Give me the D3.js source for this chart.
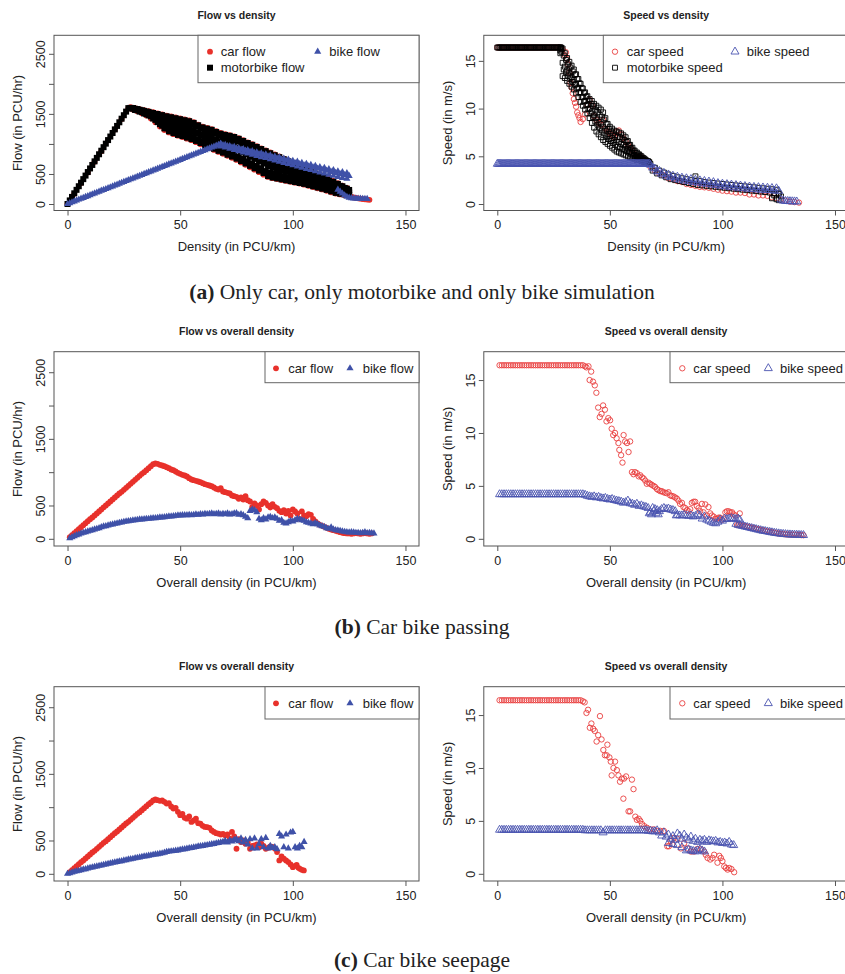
<!DOCTYPE html>
<html>
<head>
<meta charset="utf-8">
<script src="https://cdn.jsdelivr.net/npm/d3@7"></script>
<style>
  body { margin: 0; background: #fff; }
  svg { display: block; }
  text { font-family: "Liberation Sans", Arial, Helvetica, sans-serif; fill: #222; }
</style>
</head>
<body>
<svg id="fig" width="845" height="974"></svg>
<script>
// ---------- axes ----------
const densityLim = [0, 150];
const flowLim = [0, 2700];
const speedLim = [0, 17];
const densityTicks = [0, 50, 100, 150];
const flowTicks = [0, 500, 1000, 1500, 2000, 2500];
const flowTickLabels = ["0", "500", "", "1500", "", "2500"];
const speedTicks = [0, 5, 10, 15];

// ---------- (a) only car / only motorbike / only bike ----------
const aMotoFlowRise = [[0,0],[1,60],[2,118],[3,178],[4,236],[5,296],[6,355],[7,414],[8,473],[9,532],[10,592],[11,650],[12,710],[13,768],[14,828],[15,887],[16,946],[17,1005],[18,1064],[19,1123],[20,1182],[21,1242],[22,1300],[23,1360],[24,1420],[25,1478],[26,1538],[27,1596]];
const aFallEvenX = [28,30,32,34,36,38,40,42,44,46,48,50,52,54,56,58,60,62,64,66,68,70,72,74,76,78,80,82,84,86,88,90,92,94,96,98,100,102,104,106,108,110,112,114,116,118,120,122,124];
const aFallOddX = [29,31,33,35,37,39,41,43,45,47,49,51,53,55,57,59,61,63,65,67,69,71,73,75,77,79,81,83,85,87,89,91,93,95,97,99,101,103,105,107,109,111,113,115,117,119,121,123,125];
// motorbike flow band after the peak, read as six rows from top edge to bottom edge
const aMotoFlowRow0 = [1600,1585,1568,1550,1533,1515,1498,1480,1460,1445,1428,1412,1395,1378,1350,1310,1275,1255,1235,1200,1170,1150,1135,1115,1085,1050,1015,985,950,915,880,845,812,780,745,712,680,645,610,575,540,505,472,440,405,372,335,295,255];
const aMotoFlowRow1 = [1598,1580,1560,1539,1518,1492,1464,1436,1410,1392,1372,1356,1337,1318,1290,1251,1216,1194,1172,1137,1107,1084,1066,1043,1011,975,939,907,871,835,797,764,735,706,675,646,617,586,555,523,491,459,429,399,366,335,302,268,234];
const aMotoFlowRow2 = [1596,1575,1553,1528,1504,1469,1431,1392,1360,1339,1317,1299,1279,1259,1230,1192,1157,1133,1109,1074,1044,1018,997,971,937,900,863,829,792,755,714,683,657,632,605,579,554,527,500,471,442,413,385,358,327,297,269,241,213];
const aMotoFlowRow3 = [1594,1570,1545,1517,1489,1446,1397,1348,1310,1286,1261,1243,1221,1199,1170,1133,1098,1072,1046,1011,981,952,928,899,863,825,787,751,713,675,631,602,580,558,535,513,491,468,445,419,393,367,342,317,288,260,236,214,192];
const aMotoFlowRow4 = [1592,1565,1538,1506,1475,1423,1364,1304,1260,1233,1206,1186,1163,1140,1110,1074,1039,1011,983,948,918,886,859,827,789,750,711,673,634,595,548,521,502,484,465,446,428,409,390,367,344,321,298,276,249,222,203,187,171];
const aMotoFlowRow5 = [1590,1560,1530,1495,1460,1400,1330,1260,1210,1180,1150,1130,1105,1080,1050,1015,980,950,920,885,855,820,790,755,715,675,635,595,555,515,465,440,425,410,395,380,365,350,335,315,295,275,255,235,210,185,170,160,150];
const aCarFlowRise = [[0,0],[3,172],[6,350],[9,525],[12,705],[15,880],[18,1060],[21,1240],[24,1415],[27,1590]];
const aCarFlowUpper = [1612,1597,1580,1562,1545,1527,1510,1492,1472,1457,1440,1424,1407,1390,1362,1322,1287,1267,1247,1212,1182,1162,1147,1127,1097,1062,1027,997,962,927,892,857,824,792,757,724,692,657,622,587,552,517,484,452,417,384,347,307,267];
const aCarFlowLower = [1575,1545,1512,1474,1425,1360,1290,1230,1192,1162,1137,1114,1088,1062,1030,994,962,932,900,867,835,802,770,733,692,652,612,572,530,488,450,430,415,400,385,370,355,340,322,302,282,262,242,220,195,175,160,150,140];
const aCarFlowTail = [[126,120],[127,110],[128,100],[129,95],[130,88],[131,82],[132,78],[133,74],[134,70]];
const aBikeFlowRise = [[0,0],[1,15],[2,29],[3,44],[4,59],[5,74],[6,88],[7,103],[8,118],[9,132],[10,147],[11,162],[12,176],[13,191],[14,206],[15,221],[16,235],[17,250],[18,265],[19,279],[20,294],[21,309],[22,323],[23,338],[24,353],[25,368],[26,382],[27,397],[28,412],[29,426],[30,441],[31,456],[32,470],[33,485],[34,500],[35,515],[36,529],[37,544],[38,559],[39,573],[40,588],[41,603],[42,618],[43,632],[44,647],[45,662],[46,676],[47,691],[48,706],[49,720],[50,735],[51,750],[52,765],[53,779],[54,794],[55,809],[56,823],[57,838],[58,853],[59,868],[60,882],[61,897],[62,912],[63,926],[64,941],[65,956],[66,970],[67,985],[68,1000]];
const aBikeEvenX = [68,70,72,74,76,78,80,82,84,86,88,90,92,94,96,98,100,102,104,106,108,110,112,114,116,118,120,122,124];
const aBikeOddX = [69,71,73,75,77,79,81,83,85,87,89,91,93,95,97,99,101,103,105,107,109,111,113,115,117,119,121,123,125];
const aBikeFlowUpper = [1000,985,965,950,930,915,895,880,860,845,825,810,790,775,755,740,720,705,685,670,650,635,615,600,580,565,545,530,515];
const aBikeFlowMid = [980,962,942,925,905,888,868,850,830,812,795,778,758,740,720,702,682,665,645,628,608,590,570,555,535,518,498,482,468];
const aBikeFlowLower = [960,940,920,900,880,860,840,820,800,780,765,745,725,705,685,665,645,625,605,585,565,545,525,510,490,470,450,435,420];
const aBikeFlowTail = [[120,240],[121,205],[122,175],[123,145],[124,120],[125,105],[126,98],[127,94],[128,92],[129,90],[130,88],[131,87],[132,86],[133,85]];

const aFreeX = [0,1,2,3,4,5,6,7,8,9,10,11,12,13,14,15,16,17,18,19,20,21,22,23,24,25,26,27,28];
const aFreeHalfX = [0.5,1.5,2.5,3.5,4.5,5.5,6.5,7.5,8.5,9.5,10.5,11.5,12.5,13.5,14.5,15.5,16.5,17.5,18.5,19.5,20.5,21.5,22.5,23.5,24.5,25.5,26.5,27.5,28.3];
const aFreeSpeed = [16.4,16.4,16.4,16.4,16.4,16.4,16.4,16.4,16.4,16.4,16.4,16.4,16.4,16.4,16.4,16.4,16.4,16.4,16.4,16.4,16.4,16.4,16.4,16.4,16.4,16.4,16.4,16.4,16.4];
const aDropX = [28,29,30,31,32,33,34,35,36,37,38,39,40,41,42,43,44,45,46,47,48,49,50,51,52,53,54,55,56,57,58,59,60,61,62,63,64,65,66,67];
const aDropHalfX = [28.5,29.5,30.5,31.5,32.5,33.5,34.5,35.5,36.5,37.5,38.5,39.5,40.5,41.5,42.5,43.5,44.5,45.5,46.5,47.5,48.5,49.5,50.5,51.5,52.5,53.5,54.5,55.5,56.5,57.5,58.5,59.5,60.5,61.5,62.5,63.5,64.5,65.5,66.5,67.5];
const aMotoSpeedUpper = [16.4,16.3,15.8,15.3,14.9,14.5,14.1,13.6,13.1,12.6,12.1,11.7,11.3,11.0,10.8,10.5,10.3,10.1,9.9,9.6,9.0,8.4,8.1,7.9,7.7,7.6,7.5,7.4,7.2,7.0,6.6,6.2,5.9,5.6,5.4,5.2,5.0,4.8,4.6,4.5];
const aMotoSpeedMidA = [16.25,15.55,15.1,14.65,14.3,13.9,13.55,13.1,12.65,12.15,11.65,11.25,10.85,10.5,10.25,9.9,9.65,9.35,9.15,8.85,8.35,7.85,7.6,7.4,7.2,7.05,7.0,6.85,6.7,6.5,6.2,5.85,5.6,5.35,5.2,5.05,4.85,4.7,4.5,4.4];
const aMotoSpeedMid = [16.1,14.8,14.4,14.0,13.7,13.3,13.0,12.6,12.2,11.7,11.2,10.8,10.4,10.0,9.7,9.3,9.0,8.6,8.4,8.1,7.7,7.3,7.1,6.9,6.7,6.5,6.5,6.3,6.2,6.0,5.8,5.5,5.3,5.1,5.0,4.9,4.7,4.6,4.45,4.35];
const aMotoSpeedMidB = [15.95,14.1,13.8,13.45,13.15,12.8,12.5,12.1,11.7,11.2,10.75,10.35,9.95,9.5,9.1,8.65,8.3,7.95,7.7,7.4,7.1,6.8,6.6,6.4,6.2,6.0,5.95,5.8,5.7,5.55,5.4,5.2,5.05,4.9,4.8,4.75,4.6,4.5,4.35,4.3];
const aMotoSpeedLower = [15.8,13.4,13.2,12.9,12.6,12.3,12.0,11.6,11.2,10.7,10.3,9.9,9.5,9.0,8.5,8.0,7.6,7.3,7.0,6.7,6.5,6.3,6.1,5.9,5.7,5.5,5.4,5.3,5.2,5.1,5.0,4.9,4.8,4.7,4.6,4.6,4.5,4.4,4.3,4.2];
const aMotoSpeedTailUpper = [4.2,3.8,3.5,3.3,3.1,2.95,2.8,2.7,2.6,2.5,2.45,2.4,2.3,2.25,2.2,2.15,2.1,2.05,2.0,1.95,1.9,1.85,1.8,1.75,1.7,1.65,1.6,1.55,1.5];
const aMotoSpeedTailLower = [3.5,3.2,3.0,2.8,2.6,2.5,2.4,2.3,2.2,2.1,2.0,1.95,1.9,1.85,1.8,1.75,1.7,1.65,1.6,1.55,1.5,1.45,1.4,1.35,1.3,1.25,1.2,1.15,1.1];
const aMotoSpeedOutliers = [[88,2.9],[122,0.6],[123,0.9],[124,0.5],[125,0.4],[126,0.8],[125,1.1]];
const aCarSpeedDrop = [[29,16.2],[30,15.6],[30.5,15.9],[31,15.2],[31.5,14.6],[32,13.8],[32.5,12.7],[33,12.2],[33.5,11.6],[34,11.0],[34.5,10.6],[35,10.2],[35.5,9.6],[36,9.3],[36.5,9.0],[37,8.6],[38,8.9],[39,9.4],[40,10.4],[41,10.9],[42,10.3],[43,9.2],[44,8.8],[45,8.5],[46,8.3],[47,8.8],[48,7.9],[49,7.6],[50,7.4],[51,7.2],[52,7.0],[53,7.6],[54,7.7],[55,7.3],[56,6.9],[57,6.6],[58,6.2],[59,5.9],[60,5.6],[61,5.2],[62,5.0],[63,4.9],[64,4.9],[65,4.7],[66,4.4],[68,3.9],[70,3.5],[72,3.2],[74,3.0],[76,2.7],[78,2.6],[80,2.4],[82,2.3],[84,2.1],[86,2.0],[88,1.9],[90,1.8],[92,1.75],[94,1.7],[96,1.6],[98,1.5],[100,1.4],[102,1.35],[104,1.3],[106,1.2],[108,1.2],[110,1.15],[112,1.0],[114,1.0],[116,0.9],[118,0.9],[120,0.85],[122,0.7],[124,0.6],[126,0.45],[128,0.35],[130,0.25],[132,0.2],[134,0.15]];
const aBikeFreeX = [0,1,2,3,4,5,6,7,8,9,10,11,12,13,14,15,16,17,18,19,20,21,22,23,24,25,26,27,28,29,30,31,32,33,34,35,36,37,38,39,40,41,42,43,44,45,46,47,48,49,50,51,52,53,54,55,56,57,58,59,60,61,62,63,64,65,66,67];
const aBikeFreeHalfX = [0.5,1.5,2.5,3.5,4.5,5.5,6.5,7.5,8.5,9.5,10.5,11.5,12.5,13.5,14.5,15.5,16.5,17.5,18.5,19.5,20.5,21.5,22.5,23.5,24.5,25.5,26.5,27.5,28.5,29.5,30.5,31.5,32.5,33.5,34.5,35.5,36.5,37.5,38.5,39.5,40.5,41.5,42.5,43.5,44.5,45.5,46.5,47.5,48.5,49.5,50.5,51.5,52.5,53.5,54.5,55.5,56.5,57.5,58.5,59.5,60.5,61.5,62.5,63.5,64.5,65.5,66.5,67.5];
const aBikeFreeSpeed = [4.2,4.2,4.2,4.2,4.2,4.2,4.2,4.2,4.2,4.2,4.2,4.2,4.2,4.2,4.2,4.2,4.2,4.2,4.2,4.2,4.2,4.2,4.2,4.2,4.2,4.2,4.2,4.2,4.2,4.2,4.2,4.2,4.2,4.2,4.2,4.2,4.2,4.2,4.2,4.2,4.2,4.2,4.2,4.2,4.2,4.2,4.2,4.2,4.2,4.2,4.2,4.2,4.2,4.2,4.2,4.2,4.2,4.2,4.2,4.2,4.2,4.2,4.2,4.2,4.2,4.2,4.2,4.2];
const aBikeSpeedUpper = [4.1,3.7,3.45,3.25,3.08,2.95,2.85,2.75,2.68,2.6,2.53,2.46,2.4,2.34,2.28,2.18,2.12,2.07,2.02,1.97,1.92,1.87,1.82,1.78,1.75,1.72,1.69,1.66,1.63];
const aBikeSpeedLower = [3.8,3.4,3.15,2.95,2.8,2.65,2.55,2.45,2.38,2.3,2.23,2.16,2.1,2.04,1.98,1.9,1.84,1.79,1.74,1.69,1.64,1.6,1.56,1.52,1.49,1.46,1.43,1.4,1.37];
const aBikeSpeedTail = [[126,0.45],[127,0.35],[128,0.3],[129,0.3],[130,0.28],[131,0.27],[132,0.26],[133,0.25]];

// ---------- (b) car bike passing ----------
const bCarFlow = [[1,25],[2,55],[3,85],[4,115],[5,145],[6,175],[7,205],[8,235],[9,265],[10,295],[11,320],[12,350],[13,380],[14,410],[15,440],[16,470],[17,500],[18,530],[19,560],[20,590],[21,620],[22,650],[23,680],[24,705],[25,735],[26,765],[27,795],[28,825],[29,855],[30,885],[31,915],[32,945],[33,975],[34,1000],[35,1030],[36,1060],[37,1090],[38,1120],[39,1130],
  [40,1125],[41,1110],[42,1100],[43,1090],[44,1075],[45,1060],[46,1040],[47,1030],[48,1010],[49,990],[50,975],[51,960],[52,950],[53,935],[54,910],[55,890],[56,880],[57,870],[58,860],[59,850],[60,835],[61,820],[62,810],[63,800],[64,790],[65,770],[66,750],[67,740],[68,760],[69,710],[70,700],[71,690],[72,680],[73,650],[74,640],[75,630],[76,600],[77,620],[78,590],[79,640],[80,580],[81,560],[82,480],[83,530],[84,500],[85,440],[86,520],[87,560],[88,540],[89,500],[90,470],[91,520],[92,480],[93,460],[94,420],[95,400],[96,430],[97,380],[98,420],[99,350],[100,440],[101,410],[102,380],[103,300],[104,410],[105,350],[106,340],[107,370],[108,360],[109,300],[110,260],[111,230],[112,210],[113,195],[114,180],[115,165],[116,150],[117,140],[118,130],[119,120],[120,110],[121,100],[122,90],[123,85],[124,80],[125,80],[126,75],[127,80],[128,85],[129,80],[130,75],[131,80],[132,85],[133,80],[134,75],[135,80]];
const bBikeFlow = [[1,10],[2,25],[3,40],[4,55],[5,65],[6,80],[7,90],[8,100],[9,110],[10,120],[11,130],[12,140],[13,150],[14,160],[15,175],[16,185],[17,190],[18,200],[19,210],[20,215],[21,225],[22,230],[23,240],[24,245],[25,255],[26,260],[27,265],[28,270],[29,275],[30,280],[31,285],[32,290],[33,290],[34,295],[35,300],[36,300],[37,305],[38,310],[39,310],[40,315],[41,320],[42,320],[43,325],[44,330],[45,335],[46,335],[47,340],[48,345],[49,350],[50,350],[51,355],[52,355],[53,355],[54,360],[55,355],[56,360],[57,365],[58,360],[59,370],[60,365],[61,375],[62,370],[63,375],[64,380],[65,370],[66,375],[67,380],[68,365],[69,375],[70,370],[71,380],[72,365],[73,370],[74,380],[75,385],[76,360],[77,370],[78,355],[79,330],[80,310],[81,420],[82,440],[83,430],[84,400],[85,300],[86,280],[87,310],[88,290],[89,320],[90,330],[91,310],[92,320],[93,300],[94,270],[95,280],[96,240],[97,230],[98,250],[99,270],[100,260],[101,280],[102,300],[103,290],[104,280],[105,270],[106,250],[107,240],[108,230],[109,220],[110,240],[111,220],[112,200],[113,190],[114,180],[115,160],[116,150],[117,170],[118,140],[119,130],[120,125],[121,120],[122,110],[123,105],[124,100],[125,95],[126,100],[127,95],[128,90],[129,90],[130,85],[131,90],[132,100],[133,85],[134,90],[135,85],[136,80]];
const bCarSpeed = [[1,16.4],[2,16.4],[3,16.4],[4,16.4],[5,16.4],[6,16.4],[7,16.4],[8,16.4],[9,16.4],[10,16.4],[11,16.4],[12,16.4],[13,16.4],[14,16.4],[15,16.4],[16,16.4],[17,16.4],[18,16.4],[19,16.4],[20,16.4],[21,16.4],[22,16.4],[23,16.4],[24,16.4],[25,16.4],[26,16.4],[27,16.4],[28,16.4],[29,16.4],[30,16.4],[31,16.4],[32,16.4],[33,16.4],[34,16.4],[35,16.4],[36,16.4],[37,16.4],[38,16.4],
  [39,16.3],[39.6,16.2],[40.5,16.3],[41,15.0],[41.7,15.8],[42.5,14.85],[43.3,14.5],[44,13.8],[44.8,12.4],[45.5,11.5],[46.3,11.8],[47,12.6],[47.8,12.2],[48.5,11.1],[49.3,11.4],[50.1,11.2],[50.8,10.4],[51.5,9.8],[52.3,10.0],[53,9.5],[53.8,9.05],[54.2,8.4],[55,7.9],[55.6,7.2],[56.1,9.8],[56.8,9.2],[57.6,9.05],[58.3,8.2],[59,9.2],[59.8,6.3],[60.5,6.1],[61.2,6.3],[62,6.2],[62.8,5.9],[63.5,6.0],[64.3,5.8],[65,5.7],[65.7,5.5],[66.4,5.2],[67.2,5.3],[67.9,5.2],[68.6,5.1],[69.4,5.0],[70.1,4.9],[70.9,4.7],[71.6,4.6],[72.4,4.5],[73.1,4.5],[73.8,4.4],[74.6,4.35],[75.3,4.3],[76,4.4],[76.8,4.1],[77.5,4.05],[78.3,4.0],[79,3.9],[79.8,3.8],[80.5,3.6],[81.2,3.3],[82,3.4],[82.7,3.0],[83.5,2.9],[84.2,2.7],[85,2.6],[85.7,2.8],[86.4,3.4],[87.2,3.5],[87.9,3.5],[88.6,3.1],[89.4,2.9],[90.1,2.6],[90.9,3.3],[91.6,2.5],[92.4,3.25],[93.1,2.2],[93.8,3.0],[94.6,2.4],[95.3,2.2],[96.1,2.1],[96.8,1.9],[97.6,1.9],[98.3,2.0],[99,2.0],[99.8,1.8],[100.5,1.9],[101.3,2.5],[102,2.6],[102.8,2.6],[103.5,2.5],[104.3,2.5],[105,2.3],[105.8,2.2],[106.5,1.3],[107.3,1.3],[107.7,2.4],[108,1.3],[109,1.25],[110,1.2],[111,1.15],[112,1.1],[113,1.05],[114,1.0],[115,0.95],[116,0.9],[117,0.85],[118,0.8],[119,0.75],[120,0.7],[121,0.67],[122,0.62],[123,0.58],[124,0.55],[125,0.5],[126,0.47],[127,0.45],[128,0.43],[129,0.41],[130,0.4],[131,0.39],[132,0.38],[133,0.37],[134,0.36],[135,0.35],[136,0.34]];
const bBikeSpeed = [[1,4.2],[2,4.2],[3,4.2],[4,4.2],[5,4.2],[6,4.2],[7,4.2],[8,4.2],[9,4.2],[10,4.2],[11,4.2],[12,4.2],[13,4.2],[14,4.2],[15,4.2],[16,4.2],[17,4.2],[18,4.2],[19,4.2],[20,4.2],[21,4.2],[22,4.2],[23,4.2],[24,4.2],[25,4.2],[26,4.2],[27,4.2],[28,4.2],[29,4.2],[30,4.2],[31,4.2],[32,4.2],[33,4.2],[34,4.2],[35,4.2],[36,4.2],[37,4.2],[38,4.2],[39,4.15],
  [40,4.05],[41,4.0],[42,3.95],[43,4.0],[44,3.9],[45,3.95],[46,3.85],[47,3.8],[48,3.85],[49,3.75],[50,3.7],[51,3.75],[52,3.65],[53,3.6],[54,3.55],[55,3.5],[56,3.4],[57,3.45],[58,3.6],[59,3.35],[60,3.3],[61,3.2],[62,3.3],[63,3.1],[64,3.15],[65,3.05],[66,3.0],[67,2.9],[67.5,2.4],[68,2.5],[68.5,2.3],[69,2.9],[69.5,2.6],[70,2.8],[70.5,2.4],[71,2.7],[71.5,2.3],[72,2.6],[73,2.8],[74,2.9],[75,2.8],[76,2.85],[77,2.75],[78,2.7],[79,2.6],[79.5,2.2],[80,2.25],[81,2.2],[82,2.2],[83,2.25],[84,2.2],[85,2.15],[86,2.2],[87,2.1],[88,2.15],[89,2.3],[90,2.2],[91,1.9],[92,2.1],[93,1.8],[94,1.7],[95,1.6],[96,1.5],[97,1.45],[98,1.6],[99,1.8],[100,1.7],[101,1.9],[102,1.85],[103,1.9],[104,1.95],[105,1.9],[106,1.85],[107,1.9],[107.7,1.8],[106,1.4],[107,1.3],[108,1.25],[109,1.2],[110,1.15],[111,1.1],[112,1.05],[113,1.0],[114,0.95],[115,0.9],[116,0.85],[117,0.8],[118,0.75],[119,0.72],[120,0.68],[121,0.64],[122,0.6],[123,0.56],[124,0.53],[125,0.5],[126,0.47],[127,0.45],[128,0.43],[129,0.41],[130,0.4],[131,0.39],[132,0.38],[133,0.37],[134,0.36],[135,0.35],[136,0.34]];

// ---------- (c) car bike seepage ----------
const cCarFlow = [[1,25],[2,55],[3,85],[4,115],[5,145],[6,175],[7,200],[8,230],[9,260],[10,290],[11,320],[12,345],[13,375],[14,405],[15,435],[16,465],[17,490],[18,520],[19,550],[20,580],[21,610],[22,635],[23,665],[24,695],[25,725],[26,755],[27,780],[28,810],[29,840],[30,870],[31,900],[32,925],[33,955],[34,985],[35,1015],[36,1045],[37,1070],[38,1100],[39,1115],
  [40,1105],[41,1095],[42,1100],[43,1080],[44,1054],[45,1060],[46,1010],[47,980],[48,990],[49,930],[50,880],[51,900],[52,840],[53,828],[54,860],[55,778],[56,800],[57,828],[58,760],[59,753],[60,720],[61,703],[62,700],[63,690],[64,650],[65,628],[66,610],[67,602],[68,590],[69,600],[70,577],[71,590],[72,527],[73,628],[74,560],[75,376],[76,520],[77,477],[78,500],[79,452],[80,470],[81,376],[82,420],[83,427],[84,440],[85,400],[86,452],[87,420],[88,376],[89,390],[90,410],[91,402],[92,380],[93,326],[94,201],[95,260],[96,226],[97,200],[98,176],[99,140],[100,100],[101,120],[101.7,135],[102.5,90],[103.2,75],[104,60],[104.9,50]];
const cBikeFlow = [[0,0],[1,10],[2,20],[3,30],[4,40],[5,45],[6,55],[7,65],[8,70],[9,80],[10,90],[11,95],[12,105],[13,110],[14,120],[15,125],[16,135],[17,140],[18,150],[19,155],[20,165],[21,170],[22,178],[23,185],[24,190],[25,200],[26,205],[27,215],[28,220],[29,225],[30,235],[31,240],[32,245],[33,255],[34,260],[35,265],[36,272],[37,278],[38,285],[39,290],[40,295],[41,302],[42,308],[43,318],[44,328],[45,334],[46,338],[47,342],[48,348],[49,352],[50,360],[51,365],[52,370],[53,378],[54,385],[55,390],[56,395],[57,402],[58,410],[59,415],[60,420],[61,425],[62,432],[63,438],[64,445],[65,450],[66,458],[67,465],[68,472],
  [69,480],[70,495],[71,470],[72,500],[73,485],[74,510],[75,520],[76,490],[77,530],[78,470],[79,510],[80,440],[81,520],[82,380],[83,530],[84,380],[85,450],[86,520],[87,400],[88,540],[89,380],[90,420],[91,390],[92,400],[93,370],[94,600],[95,560],[96,400],[97,590],[98,380],[99,620],[100,630],[101,400],[102,380],[103,420],[104,400],[105,480]];
const cCarSpeed = [[1,16.4],[2,16.4],[3,16.4],[4,16.4],[5,16.4],[6,16.4],[7,16.4],[8,16.4],[9,16.4],[10,16.4],[11,16.4],[12,16.4],[13,16.4],[14,16.4],[15,16.4],[16,16.4],[17,16.4],[18,16.4],[19,16.4],[20,16.4],[21,16.4],[22,16.4],[23,16.4],[24,16.4],[25,16.4],[26,16.4],[27,16.4],[28,16.4],[29,16.4],[30,16.4],[31,16.4],[32,16.4],[33,16.4],[34,16.4],[35,16.4],[36,16.4],[37,16.4],[38,16.3],
  [38.8,16.2],[39.6,15.2],[40.3,15.5],[41.1,13.8],[41.8,14.2],[42.6,13.7],[43.3,13.5],[44.1,12.5],[44.8,13.1],[45.6,14.9],[46.3,12.7],[47.1,11.7],[47.8,11.2],[48.6,11.2],[48.9,12.2],[49.8,11.0],[50.4,10.6],[50.8,9.3],[51.6,10.0],[52.3,10.6],[53.1,9.8],[53.8,9.3],[54.5,8.7],[55.3,9.0],[56.3,9.0],[57.2,9.2],[56.0,7.1],[58.3,5.9],[59.0,5.9],[59.8,8.9],[60.5,8.0],[61.3,5.4],[62.0,5.1],[62.8,5.2],[63.5,5.0],[64.3,4.7],[65.3,4.5],[66.5,4.35],[68.0,4.2],[69.5,4.2],[71.0,4.05],[72.5,4.05],[74.0,4.05],[75.5,2.6],[77.0,3.1],[77.7,2.8],[78.5,3.4],[80.0,3.3],[76.2,2.6],[81.5,2.4],[83.0,2.9],[84.4,2.4],[86.0,2.1],[87.4,2.1],[88.9,2.35],[90.4,2.3],[91.9,2.1],[92.6,1.8],[93.4,1.5],[94.6,1.35],[95.6,1.5],[96.3,1.8],[97.8,1.05],[98.6,1.7],[99.3,1.5],[100.0,1.2],[100.8,0.7],[101.5,0.55],[102.3,0.4],[103.0,0.55],[104.0,0.45],[105.2,0.15]];
const cBikeSpeed = [[1,4.15],[2,4.15],[3,4.15],[4,4.15],[5,4.15],[6,4.15],[7,4.15],[8,4.15],[9,4.15],[10,4.15],[11,4.15],[12,4.15],[13,4.15],[14,4.15],[15,4.15],[16,4.15],[17,4.15],[18,4.15],[19,4.15],[20,4.15],[21,4.15],[22,4.15],[23,4.15],[24,4.15],[25,4.15],[26,4.15],[27,4.15],[28,4.15],[29,4.15],[30,4.15],[31,4.15],[32,4.15],[33,4.15],[34,4.15],[35,4.15],[36,4.15],[37,4.15],[38,4.15],[39,4.1],[40,4.1],[41,4.1],[42,4.1],[43,4.1],[44,4.1],[45,4.1],[46,4.1],[47,3.9],[48,4.1],[49,4.1],[50,4.1],[51,4.1],[52,4.1],[53,4.1],[54,4.1],[55,4.1],[56,4.1],[57,4.1],[58,4.1],[59,4.1],[60,4.1],[61,4.1],[62,4.1],[63,4.1],[64,4.1],[65,4.1],[66,4.1],[67,4.05],[68,4.05],[69,4.0],[70,4.0],
  [71,4.1],[72,3.9],[73,3.6],[74,3.9],[75,3.5],[76,3.7],[77,3.3],[78,3.55],[79,3.2],[80,3.8],[81,3.6],[82,3.3],[83,3.7],[84,3.4],[85,3.2],[86,3.5],[87,3.1],[88,3.3],[89,3.0],[90,3.2],[91,3.1],[92,3.2],[93,3.0],[94,3.15],[95,3.1],[96,3.05],[97,3.1],[98,2.95],[99,3.0],[100,2.9],[101,2.95],[102,2.85],[103,3.0],[104,2.75],[105,2.7],
  [76,2.9],[78,2.8],[80,2.7],[82,2.5],[84,2.2],[85,2.3],[86,2.2],[87,2.15],[88,2.1],[89,2.2],[90,2.3],[91,2.2],[92,2.1]];

// ---------- helpers ----------
const zip = (xs, ys) => xs.map((x, i) => [x, ys[i]]);
const padded = lim => { const p = (lim[1] - lim[0]) * 0.04; return [lim[0] - p, lim[1] + p]; };

const RED = "#e8312b", RED_OPEN = "#e94040", BLUE = "#3f51a8", BLUE_OPEN = "#4a54b0", BLACK = "#000";
const carFlowStyle = { shape: "circle", filled: true, color: RED };
const bikeFlowStyle = { shape: "triangle", filled: true, color: BLUE };
const motoFlowStyle = { shape: "square", filled: true, color: BLACK };
const carSpeedStyle = { shape: "circle", filled: false, color: RED_OPEN };
const bikeSpeedStyle = { shape: "triangle", filled: false, color: BLUE_OPEN };
const motoSpeedStyle = { shape: "square", filled: false, color: BLACK };

const ROW_A = { t: 35.3, b: 210.5 }, ROW_B = { t: 351.7, b: 546 }, ROW_C = { t: 686.7, b: 881 };
const COL_L = { l: 54, r: 419 }, COL_R = { l: 483.8, r: 848.5 };

const panels = [
  { ...ROW_A, ...COL_L, ylim: flowLim, kind: "flow", title: "Flow vs density", xlab: "Density (in PCU/km)",
    series: [
      { ...carFlowStyle, data: aCarFlowRise.concat(zip(aFallEvenX, aCarFlowUpper), zip(aFallOddX, aCarFlowLower), aCarFlowTail) },
      { ...motoFlowStyle, data: aMotoFlowRise.concat(
          zip(aFallEvenX, aMotoFlowRow0), zip(aFallOddX, aMotoFlowRow1), zip(aFallEvenX, aMotoFlowRow2),
          zip(aFallOddX, aMotoFlowRow3), zip(aFallEvenX, aMotoFlowRow4), zip(aFallOddX, aMotoFlowRow5)) },
      { ...bikeFlowStyle, data: aBikeFlowRise.concat(zip(aBikeEvenX, aBikeFlowUpper), zip(aBikeOddX, aBikeFlowMid), zip(aBikeEvenX, aBikeFlowLower), aBikeFlowTail) }
    ],
    legend: { x: 198, b: 82.7, rows: [51.7, 67.7], items: [
      { ...carFlowStyle, label: "car flow", sx: 210, tx: 220.7, row: 0 },
      { ...motoFlowStyle, label: "motorbike flow", sx: 210, tx: 220.7, row: 1 },
      { ...bikeFlowStyle, label: "bike flow", sx: 317.7, tx: 329.3, row: 0 } ] } },
  { ...ROW_A, ...COL_R, ylim: speedLim, kind: "speed", title: "Speed vs density", xlab: "Density (in PCU/km)",
    series: [
      { ...carSpeedStyle, data: zip(aFreeX, aFreeSpeed).concat(aCarSpeedDrop) },
      { ...motoSpeedStyle, data: zip(aFreeX, aFreeSpeed).concat(zip(aFreeHalfX, aFreeSpeed),
          zip(aDropX, aMotoSpeedUpper), zip(aDropHalfX, aMotoSpeedMidA), zip(aDropX, aMotoSpeedMid),
          zip(aDropHalfX, aMotoSpeedMidB), zip(aDropX, aMotoSpeedLower),
          zip(aBikeEvenX, aMotoSpeedTailUpper), zip(aBikeOddX, aMotoSpeedTailLower), aMotoSpeedOutliers) },
      { ...bikeSpeedStyle, data: zip(aBikeFreeX, aBikeFreeSpeed).concat(zip(aBikeFreeHalfX, aBikeFreeSpeed),
          zip(aBikeEvenX, aBikeSpeedUpper), zip(aBikeOddX, aBikeSpeedLower), aBikeSpeedTail) }
    ],
    legend: { x: 603.3, b: 82.7, rows: [51.7, 67.7], items: [
      { ...carSpeedStyle, label: "car speed", sx: 615, tx: 626.7, row: 0 },
      { ...motoSpeedStyle, label: "motorbike speed", sx: 615, tx: 626.7, row: 1 },
      { ...bikeSpeedStyle, label: "bike speed", sx: 735, tx: 746.7, row: 0 } ] } },
  { ...ROW_B, ...COL_L, ylim: flowLim, kind: "flow", title: "Flow vs overall density", xlab: "Overall density (in PCU/km)",
    series: [ { ...carFlowStyle, data: bCarFlow }, { ...bikeFlowStyle, data: bBikeFlow } ],
    legend: { x: 265, b: 382.7, rows: [368.3], items: [
      { ...carFlowStyle, label: "car flow", sx: 276, tx: 288.3, row: 0 },
      { ...bikeFlowStyle, label: "bike flow", sx: 350, tx: 362.7, row: 0 } ] } },
  { ...ROW_B, ...COL_R, ylim: speedLim, kind: "speed", title: "Speed vs overall density", xlab: "Overall density (in PCU/km)",
    series: [ { ...carSpeedStyle, data: bCarSpeed }, { ...bikeSpeedStyle, data: bBikeSpeed } ],
    legend: { x: 670, b: 382.7, rows: [368.3], items: [
      { ...carSpeedStyle, label: "car speed", sx: 682.3, tx: 693.3, row: 0 },
      { ...bikeSpeedStyle, label: "bike speed", sx: 768.3, tx: 780, row: 0 } ] } },
  { ...ROW_C, ...COL_L, ylim: flowLim, kind: "flow", title: "Flow vs overall density", xlab: "Overall density (in PCU/km)",
    series: [ { ...carFlowStyle, data: cCarFlow }, { ...bikeFlowStyle, data: cBikeFlow } ],
    legend: { x: 265, b: 719, rows: [703.3], items: [
      { ...carFlowStyle, label: "car flow", sx: 276, tx: 288.3, row: 0 },
      { ...bikeFlowStyle, label: "bike flow", sx: 350, tx: 362.7, row: 0 } ] } },
  { ...ROW_C, ...COL_R, ylim: speedLim, kind: "speed", title: "Speed vs overall density", xlab: "Overall density (in PCU/km)",
    series: [ { ...carSpeedStyle, data: cCarSpeed }, { ...bikeSpeedStyle, data: cBikeSpeed } ],
    legend: { x: 670, b: 719, rows: [703.3], items: [
      { ...carSpeedStyle, label: "car speed", sx: 682.3, tx: 693.3, row: 0 },
      { ...bikeSpeedStyle, label: "bike speed", sx: 768.3, tx: 780, row: 0 } ] } }
];

const captions = [
  { y: 292, tag: "(a)", text: " Only car, only motorbike and only bike simulation" },
  { y: 627, tag: "(b)", text: " Car bike passing" },
  { y: 960, tag: "(c)", text: " Car bike seepage" }
];

// ---------- drawing ----------
const svg = d3.select("#fig");

function symbolPath(shape, filled) {
  if (shape === "triangle") return d3.symbol().type(d3.symbolTriangle).size(filled ? 22 : 28)();
  return d3.symbol().type(d3.symbolSquare).size(filled ? 36 : 24)();
}

function drawMarks(g, style, pts) {
  const paint = sel => style.filled
    ? sel.attr("fill", style.color).attr("stroke", "none")
    : sel.attr("fill", "none").attr("stroke", style.color).attr("stroke-width", 0.9);
  if (style.shape === "circle") {
    g.selectAll(null).data(pts).join("circle")
      .attr("cx", d => d[0]).attr("cy", d => d[1])
      .attr("r", style.filled ? 2.9 : 2.7)
      .call(paint);
  } else {
    const d = symbolPath(style.shape, style.filled);
    g.selectAll(null).data(pts).join("path")
      .attr("transform", p => `translate(${p[0]},${p[1]})`)
      .attr("d", d)
      .call(paint);
  }
}

function drawPanel(p) {
  const x = d3.scaleLinear().domain(padded(densityLim)).range([p.l, p.r]);
  const y = d3.scaleLinear().domain(padded(p.ylim)).range([p.b, p.t]);
  const g = svg.append("g");

  p.series.forEach(s => {
    drawMarks(g.append("g"), s, s.data.map(d => [x(d[0]), y(d[1])]));
  });

  g.append("rect")
    .attr("x", p.l).attr("y", p.t)
    .attr("width", p.r - p.l).attr("height", p.b - p.t)
    .attr("fill", "none").attr("stroke", "#555").attr("stroke-width", 1);

  // x axis
  const xa = g.append("g")
    .attr("transform", `translate(0,${p.b})`)
    .call(d3.axisBottom(x).tickValues(densityTicks).tickSize(5).tickPadding(5).tickFormat(d3.format("d")));
  xa.select(".domain").remove();
  xa.selectAll("line").attr("stroke", "#555");
  xa.selectAll("text").attr("font-size", 12.5).attr("fill", "#222");

  // y axis, labels parallel to the axis
  const ticks = p.kind === "flow" ? flowTicks : speedTicks;
  const ya = g.append("g")
    .attr("transform", `translate(${p.l},0)`)
    .call(d3.axisLeft(y).tickValues(ticks).tickSize(5)
      .tickFormat((d, i) => p.kind === "flow" ? flowTickLabels[i] : String(d)));
  ya.select(".domain").remove();
  ya.selectAll("line").attr("stroke", "#555");
  ya.selectAll("text")
    .attr("x", null).attr("dy", null)
    .attr("text-anchor", "middle")
    .attr("transform", "translate(-8.7,0) rotate(-90)")
    .attr("font-size", 12.5).attr("fill", "#222");
  g.selectAll("g").attr("font-family", null);

  // titles
  g.append("text")
    .attr("x", (p.l + p.r) / 2).attr("y", p.t - 16.3)
    .attr("text-anchor", "middle")
    .attr("font-size", 10.5).attr("font-weight", "bold")
    .text(p.title);
  g.append("text")
    .attr("x", (p.l + p.r) / 2).attr("y", p.b + 40.6)
    .attr("text-anchor", "middle")
    .attr("font-size", 13)
    .text(p.xlab);
  g.append("text")
    .attr("transform", `translate(${p.l - 32},${(p.t + p.b) / 2}) rotate(-90)`)
    .attr("text-anchor", "middle")
    .attr("font-size", 13)
    .text(p.kind === "flow" ? "Flow (in PCU/hr)" : "Speed (in m/s)");

  // legend
  const lg = p.legend;
  g.append("rect")
    .attr("x", lg.x).attr("y", p.t)
    .attr("width", p.r - lg.x).attr("height", lg.b - p.t)
    .attr("fill", "#fff").attr("stroke", "#666").attr("stroke-width", 1);
  lg.items.forEach(it => {
    drawMarks(g.append("g"), it, [[it.sx, lg.rows[it.row]]]);
    g.append("text")
      .attr("x", it.tx).attr("y", lg.rows[it.row] + 4.6)
      .attr("font-size", 13)
      .text(it.label);
  });
}

panels.forEach(drawPanel);

captions.forEach(c => {
  const t = svg.append("text")
    .attr("x", 422).attr("y", c.y + 7)
    .attr("text-anchor", "middle")
    .attr("font-size", 21.5)
    .style("font-family", '"Liberation Serif", "Times New Roman", serif');
  t.append("tspan").attr("font-weight", "bold").text(c.tag);
  t.append("tspan").text(c.text);
});
</script>
</body>
</html>
